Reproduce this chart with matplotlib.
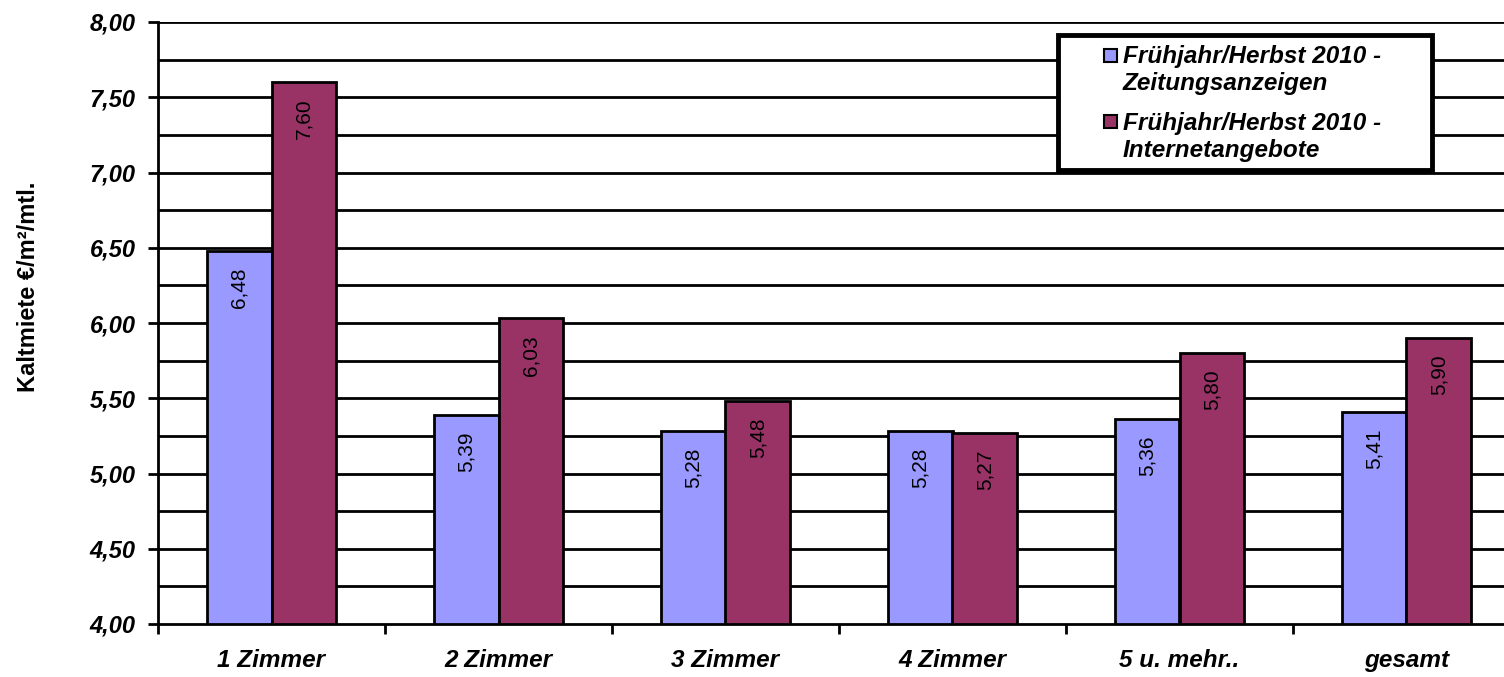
import matplotlib.pyplot as plt
from matplotlib.patches import Rectangle
import numpy as np

# Kaltmiete nach Zimmerzahl, Frühjahr/Herbst 2010
categories = ['1 Zimmer', '2 Zimmer', '3 Zimmer', '4 Zimmer', '5 u. mehr..', 'gesamt']
zeitung = [6.48, 5.39, 5.28, 5.28, 5.36, 5.41]
internet = [7.60, 6.03, 5.48, 5.27, 5.80, 5.90]
series_names = [['Frühjahr/Herbst 2010 -', 'Zeitungsanzeigen'],
                ['Frühjahr/Herbst 2010 -', 'Internetangebote']]
ytick_vals = np.arange(4.0, 8.01, 0.5)
ytick_labels = [f'{v:.2f}'.replace('.', ',') for v in ytick_vals]

plt.rcParams['font.family'] = ['Liberation Sans', 'DejaVu Sans']

W, H = 1504, 677
fig = plt.figure(figsize=(W / 100, H / 100), dpi=100)
ax = fig.add_axes([158 / W, 53 / H, 1346 / W, 602 / H])

x = np.arange(len(categories))
w = 0.286
blue = '#9999FF'
red = '#993366'

# grid every 0.25, black
for g in np.arange(4.25, 8.01, 0.25):
    ax.axhline(g, color='black', lw=2, zorder=0)

ax.bar(x - w / 2, zeitung, w, color=blue, edgecolor='black', linewidth=2, zorder=2)
ax.bar(x + w / 2, internet, w, color=red, edgecolor='black', linewidth=2, zorder=2)

for xs, vals in [(x - w / 2, zeitung), (x + w / 2, internet)]:
    for xi, v in zip(xs, vals):
        ax.annotate(f'{v:.2f}'.replace('.', ','), (xi, v), xytext=(0, -12),
                    textcoords='offset points', rotation=90, ha='center',
                    va='top', fontsize=15, color='black', zorder=3)

ax.set_yticks(ytick_vals)
ax.set_yticklabels(ytick_labels, fontsize=17, fontweight='bold', fontstyle='italic')
ax.set_xticks(x)
ax.set_xticklabels(categories, fontsize=17.5, fontweight='bold', fontstyle='italic')
ax.set_xticks(np.arange(-0.5, 6, 1), minor=True)
ax.set_ylim(4.0, 8.0)
ax.set_xlim(-0.5, -0.5 + 1346 / 227)
ax.tick_params(axis='x', which='major', length=0, pad=18)
ax.tick_params(axis='x', which='minor', length=7, width=2, direction='out')
ax.tick_params(axis='y', length=7, width=2, direction='out', pad=9)

for s in ['top', 'right']:
    ax.spines[s].set_visible(False)
ax.spines['left'].set_linewidth(2)
ax.spines['bottom'].set_linewidth(2)

ax.set_ylabel('Kaltmiete €/m²/mtl.', fontsize=17, fontweight='bold')
ax.yaxis.set_label_coords(-0.088, 0.56)

# legend box drawn in figure pixels (Excel style)
def px(xp, yp):
    return xp / W, 1 - yp / H

fig.patches.append(Rectangle(px(1058, 170), (1432 - 1058) / W, (170 - 35) / H,
                             transform=fig.transFigure, facecolor='white',
                             edgecolor='black', linewidth=3.5, zorder=5))
for col, names, my, base in [(blue, series_names[0], 62, 63),
                             (red, series_names[1], 128, 130)]:
    fig.patches.append(Rectangle(px(1104, my), 13 / W, 13 / H,
                                 transform=fig.transFigure, facecolor=col,
                                 edgecolor='black', linewidth=1.5, zorder=6))
    for i, line in enumerate(names):
        fig.text(*px(1123, base + i * 27), line, fontsize=17.5, fontweight='bold',
                 fontstyle='italic', va='baseline', ha='left', zorder=7)

fig.savefig('out.png', dpi=100)
